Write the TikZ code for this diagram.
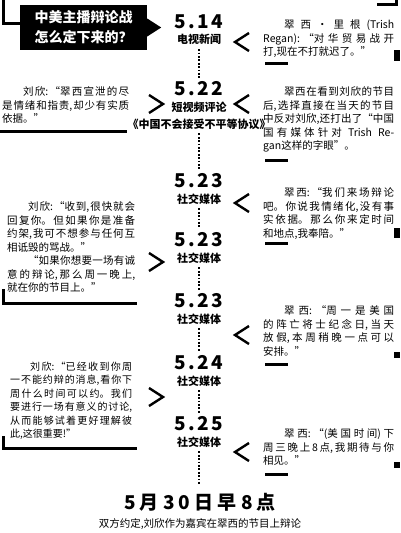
\documentclass[tikz,border=0pt]{standalone}
\usepackage{fontspec}
\setmainfont{Noto Sans CJK SC}
\newfontfamily\datefont[LetterSpace=12]{Noto Sans CJK SC}
\newfontfamily\meetfont[LetterSpace=22]{Noto Sans CJK SC}
\usetikzlibrary{positioning}
\XeTeXlinebreaklocale "zh"
\XeTeXlinebreakskip=0pt plus 1pt

\begin{document}
\begin{tikzpicture}[
    x=1pt, y=-1pt,
    titlebox/.style={
        fill=black, text=white, inner sep=0pt,
        minimum width=127pt, minimum height=45pt,
        align=center, font=\bfseries\fontsize{14}{20}\selectfont
    },
    datelbl/.style={fill=white, inner sep=1pt, font=\datefont\bfseries\fontsize{19}{19}\selectfont},
    medialbl/.style={fill=white, inner sep=1pt, font=\bfseries\fontsize{11}{12}\selectfont},
    say/.style={
        anchor=north west, inner sep=0pt,
        text width=131pt, align=justify,
        font=\fontsize{10.5}{13.5}\selectfont
    },
    dots/.style={line width=1.8pt, dash pattern=on 1.8pt off 1.6pt, shorten <=3pt, shorten >=3pt},
    bar/.style={line width=3pt},
    chev/.style={line width=2.4pt},
    ltmark/.pic={\draw[chev] (7,-9) -- (-7,0) -- (7,9);},
    gtmark/.pic={\draw[chev] (-7,-9) -- (7,0) -- (-7,9);}
]
\fill[white] (0,0) rectangle (400,533);
\useasboundingbox (0,0) rectangle (400,533);

% Title
\node[titlebox] (title) at (83.5,27.5) {中美主播辩论战\\怎么定下来的？};
\draw[bar] (3.5,0) |- ([yshift=4pt]title.west);
\fill ([yshift=9pt]title.east) -- ([xshift=14pt]title.east) -- ([yshift=-9pt]title.east) -- cycle;
\draw[bar] (377,4.5) -- (396.5,4.5) -- (396.5,0);

% Dates down the middle
\node[datelbl] (d514) at (199,22) {5.14};
\node[medialbl, below=3pt of d514] (m514) {电视新闻};
\node[datelbl] (d522) at (199,89) {5.22};
\node[medialbl, below=3pt of d522] (m522) {短视频评论};
\node[medialbl, below=4pt of m522] (show) {《中国不会接受不平等协议》};
\node[datelbl] (d523a) at (199,181) {5.23};
\node[medialbl, below=3pt of d523a] (m523a) {社交媒体};
\node[datelbl] (d523b) at (199,240) {5.23};
\node[medialbl, below=3pt of d523b] (m523b) {社交媒体};
\node[datelbl] (d523c) at (199,301) {5.23};
\node[medialbl, below=3pt of d523c] (m523c) {社交媒体};
\node[datelbl] (d524) at (199,363) {5.24};
\node[medialbl, below=3pt of d524] (m524) {社交媒体};
\node[datelbl] (d525) at (199,424) {5.25};
\node[medialbl, below=3pt of d525] (m525) {社交媒体};
\coordinate (tail) at (199,488);

\draw[dots] (m514) -- (d522);
\draw[dots] (show) -- (d523a);
\draw[dots] (m523a) -- (d523b);
\draw[dots] (m523b) -- (d523c);
\draw[dots] (m523c) -- (d524);
\draw[dots] (m524) -- (d525);
\draw[dots] (m525) -- (tail);

% Bottom result
\node[font=\meetfont\bfseries\fontsize{19}{19}\selectfont] (meet) at (200,502) {5月30日早8点};
\node[font=\fontsize{10.5}{12}\selectfont, below=1pt of meet] (deal) {双方约定,刘欣作为嘉宾在翠西的节目上辩论};

% Trish Regan side
\node[say] (rsay514) at (263,19.5) {\hspace*{2em}翠西·里根(Trish\linebreak Regan):“对华贸易战开\linebreak 打,现在不打就迟了。”};
\node[say] (rsay522) at (263,86.5) {\hspace*{2em}翠西在看到刘欣的节目\linebreak 后,选择直接在当天的节目\linebreak 中反对刘欣,还打出了“中国\linebreak 国有媒体针对 Trish Re-\linebreak gan这样的字眼”。};
\node[say] (rsay523a) at (263,187.5) {\hspace*{2em}翠西:“我们来场辩论\linebreak 吧。你说我情绪化,没有事\linebreak 实依据。那么你来定时间\linebreak 和地点,我奉陪。”};
\node[say] (rsay523c) at (263,305.5) {\hspace*{2em}翠西:“周一是美国\linebreak 的阵亡将士纪念日,当天\linebreak 放假,本周稍晚一点可以\linebreak 安排。”};
\node[say] (rsay525) at (263,428.5) {\hspace*{2em}翠西:“(美国时间)下\linebreak 周三晚上8点,我期待与你\linebreak 相见。”};

% Liu Xin side
\node[say, text width=127pt] (lsay522) at (2,86.5) {\hspace*{2em}刘欣:“翠西宣泄的尽\linebreak 是情绪和指责,却少有实质\linebreak 依据。”};
\node[say, text width=128pt] (lsay523b) at (7,201.5) {\hspace*{2em}刘欣:“收到,很快就会\linebreak 回复你。但如果你是准备\linebreak 约架,我可不想参与任何互\linebreak 相诋毁的骂战。”\par\hspace*{2em}“如果你想要一场有诚\linebreak 意的辩论,那么周一晚上,\linebreak 就在你的节目上。”};
\node[say, text width=122pt, font=\fontsize{10}{13.5}\selectfont] (lsay524) at (10,361.5) {\hspace*{2em}刘欣:“已经收到你周\linebreak 一不能约辩的消息,看你下\linebreak 周什么时间可以约。我们\linebreak 要进行一场有意义的讨论,\linebreak 从而能够试着更好理解彼\linebreak 此,这很重要!”};

% Chevrons
\pic at (242,42) {ltmark};
\pic at (242,104) {ltmark};
\pic at (242,203) {ltmark};
\pic at (242,335) {ltmark};
\pic at (242,452) {ltmark};
\pic at (156,104) {gtmark};
\pic at (156,262) {gtmark};
\pic at (156,397) {gtmark};

% Bars under the quotes
\draw[bar] (0,131.5) -- (127,131.5);
\draw[bar] (3.5,289) |- (137,303.5);
\draw[bar] (3.5,436) |- (137,448.5);
\draw[bar] (265,63) -- (288,63);
\draw[bar] (265,160) -- (288,160);
\draw[bar] (265,243) -- (288,243);
\draw[bar] (265,364) -- (288,364);
\draw[bar] (265,474) -- (288,474);
\fill (394,50) rectangle (400,61);
\fill (394,228) rectangle (400,238);
\fill (394,352) rectangle (400,358);
\fill (394,462) rectangle (400,468);
\end{tikzpicture}
\end{document}
